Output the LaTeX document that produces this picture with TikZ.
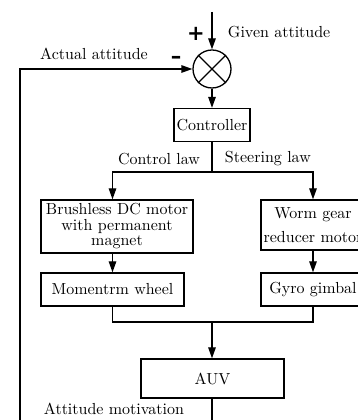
\documentclass[tikz,border=0pt]{standalone}
\usepackage{amsmath,amssymb}
\usepackage{fontspec}
\setmainfont{lmroman10-regular.otf}[BoldFont=lmroman10-bold.otf]
\newfontfamily\signfont{DejaVu Sans}
\usepackage{xcolor}
\usepackage{tikz}
\usetikzlibrary{arrows.meta}

\begin{document}
\begin{tikzpicture}[x=1pt,y=1pt,line width=1.3pt,
    every node/.style={font=\fontsize{16}{15.5}\selectfont},
    blk/.style={draw,inner sep=0pt,align=center},
    sign/.style={font=\fontsize{21}{21}\signfont\bfseries},
    arr/.style={-{Triangle[length=11pt,width=7.5pt]}}]
    \useasboundingbox (0,0) rectangle (358,420);
    \clip (0,0) rectangle (358,420);

    % Sum
    \node[draw,circle,minimum size=38pt,inner sep=0pt] (sum) at (212,351) {};
    \draw (sum.45) -- (sum.225) (sum.135) -- (sum.315);
    \coordinate (given) at (212,408);
    \draw[arr] (given) -- (sum.north);
    \node[sign] (plus) at (196,386) {+};
    \node[anchor=west] (givenlbl) at (224,388) {Given attitude};
    \node (actlbl) at (94,366) {Actual attitude};
    \node[sign] (minus) at (176,360) {\char"2013};

    % Controller
    \node[blk,minimum width=76pt,minimum height=33pt] (ctrl) at (212,295) {Controller};
    \draw[arr] (sum.south) -- (ctrl.north);
    \coordinate (fork) at (212,248);
    \node[anchor=east] (ctrllaw) at (204,261) {Control law};
    \node[anchor=west] (steerlaw) at (221,261) {Steering law};

    % Left branch
    \node[blk,minimum width=152pt,minimum height=53pt] (brush) at (117,193.5)
        {Brushless DC motor\\with permanent\\magnet};
    \node[blk,minimum width=143pt,minimum height=33pt] (mom) at (112.5,130.5) {Momentrm wheel};

    % Right branch
    \node[blk,minimum width=104pt,minimum height=50pt] (worm) at (313,195)
        {Worm gear\\[9pt]reducer motor};
    \node[blk,minimum width=104pt,minimum height=33pt] (gyro) at (313,130.5) {Gyro gimbal};

    \draw (ctrl.south) -- (fork);
    \draw[arr] (fork) -| (brush.north -| mom.north);
    \draw[arr] (fork) -| (worm.north);
    \draw[arr] (brush.south -| mom.north) -- (mom.north);
    \draw[arr] (worm.south) -- (gyro.north);

    % AUV
    \node[blk,minimum width=143pt,minimum height=39pt] (auv) at (212.5,41.5) {AUV};
    \coordinate (join) at (212,98);
    \draw (mom.south) |- (join) -| (gyro.south);
    \draw[arr] (join) -- (auv.north -| join);
    \node (motlbl) at (114,11) {Attitude motivation};

    % Feedback
    \coordinate (fb) at (20,-10);
    \draw[arr] (auv.south -| join) |- (fb) |- (sum.west);
\end{tikzpicture}
\end{document}
